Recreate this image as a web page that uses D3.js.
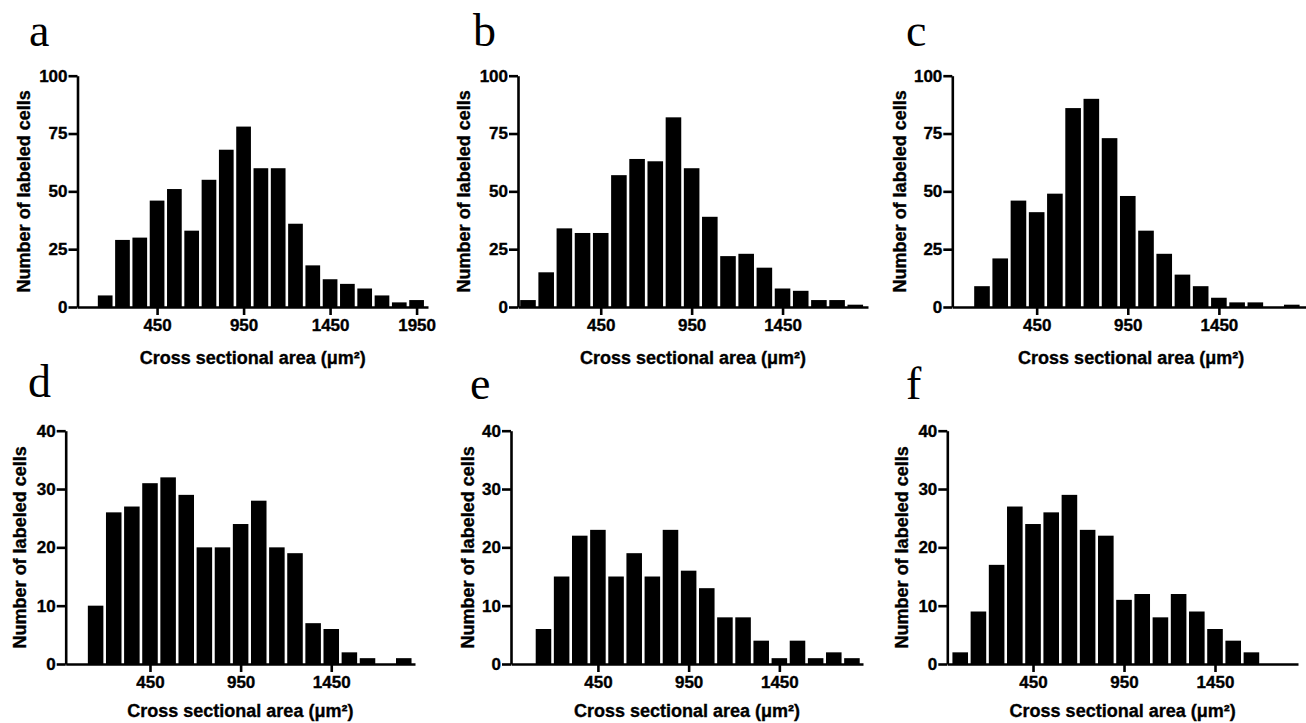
<!DOCTYPE html>
<html>
<head>
<meta charset="utf-8">
<script src="https://cdn.jsdelivr.net/npm/d3@7"></script>
<style>
  html, body { margin: 0; padding: 0; background: #fff; }
  svg { display: block; }
  .tick text, .axis-label { font-family: "Liberation Sans", Arial, sans-serif; font-weight: bold; fill: #000; stroke: #000; stroke-width: 0.35px; }
  .letter { font-family: "Liberation Serif", "Times New Roman", serif; fill: #000; }
</style>
</head>
<body>
<div id="chart"></div>
<script>
// bin centres (µm²) and counts for each histogram, bins are 100 wide
const binWidth = 100;

const centersA = [150, 250, 350, 450, 550, 650, 750, 850, 950, 1050, 1150, 1250, 1350, 1450, 1550, 1650, 1750, 1850, 1950];
const countsA = [5, 29, 30, 46, 51, 33, 55, 68, 78, 60, 60, 36, 18, 12, 10, 8, 5, 2, 3];

const centersB = [50, 150, 250, 350, 450, 550, 650, 750, 850, 950, 1050, 1150, 1250, 1350, 1450, 1550, 1650, 1750, 1850];
const countsB = [3, 15, 34, 32, 32, 57, 64, 63, 82, 60, 39, 22, 23, 17, 8, 7, 3, 3, 1];

const centersC = [150, 250, 350, 450, 550, 650, 750, 850, 950, 1050, 1150, 1250, 1350, 1450, 1550, 1650, 1750, 1850];
const countsC = [9, 21, 46, 41, 49, 86, 90, 73, 48, 33, 23, 14, 9, 4, 2, 2, 0, 1];

const centersD = [150, 250, 350, 450, 550, 650, 750, 850, 950, 1050, 1150, 1250, 1350, 1450, 1550, 1650, 1750, 1850];
const countsD = [10, 26, 27, 31, 32, 29, 20, 20, 24, 28, 20, 19, 7, 6, 2, 1, 0, 1];

const centersE = [150, 250, 350, 450, 550, 650, 750, 850, 950, 1050, 1150, 1250, 1350, 1450, 1550, 1650, 1750, 1850];
const countsE = [6, 15, 22, 23, 15, 19, 15, 23, 16, 13, 8, 8, 4, 1, 4, 1, 2, 1];

const centersF = [50, 150, 250, 350, 450, 550, 650, 750, 850, 950, 1050, 1150, 1250, 1350, 1450, 1550, 1650];
const countsF = [2, 9, 17, 27, 24, 26, 29, 23, 22, 11, 12, 8, 12, 9, 6, 4, 2];

const xTicksA = [450, 950, 1450, 1950];
const xTicks = [450, 950, 1450];
const yTicksTop = [0, 25, 50, 75, 100];
const yTicksBottom = [0, 10, 20, 30, 40];

const xTitle = 'Cross sectional area (\u03bcm\u00b2)';
const yTitle = 'Number of labeled cells';

const W = 1306, H = 723;

const svg = d3.select('#chart')
  .append('svg')
  .attr('width', W)
  .attr('height', H);

// layout for each panel (pixel positions only)
const panels = [
  { letter: 'a', centers: centersA, counts: countsA, ticks: xTicksA, yTicks: yTicksTop,
    left: 77.5, right: 428, xMin: -10, xMax: 2016, top: 75.7, bottom: 307,
    letterX: 29, letterY: 46, yLabX: 24, xLabY: 364 },
  { letter: 'b', centers: centersB, counts: countsB, ticks: xTicks, yTicks: yTicksTop,
    left: 518, right: 868, xMin: -5, xMax: 1920, top: 75.7, bottom: 307,
    letterX: 473, letterY: 46, yLabX: 464, xLabY: 364 },
  { letter: 'c', centers: centersC, counts: countsC, ticks: xTicks, yTicks: yTicksTop,
    left: 952.3, right: 1310, xMin: -13, xMax: 1950, top: 75.7, bottom: 307,
    letterX: 906, letterY: 46, yLabX: 900, xLabY: 364 },
  { letter: 'd', centers: centersD, counts: countsD, ticks: xTicks, yTicks: yTicksBottom,
    left: 65.7, right: 415, xMin: -15, xMax: 1912, top: 430.7, bottom: 664,
    letterX: 28, letterY: 397, yLabX: 20, xLabY: 717 },
  { letter: 'e', centers: centersE, counts: countsE, ticks: xTicks, yTicks: yTicksBottom,
    left: 511, right: 863, xMin: -29, xMax: 1911, top: 430.7, bottom: 664,
    letterX: 470, letterY: 399, yLabX: 468, xLabY: 717 },
  { letter: 'f', centers: centersF, counts: countsF, ticks: xTicks, yTicks: yTicksBottom,
    left: 947.3, right: 1298, xMin: -21, xMax: 1906, top: 430.7, bottom: 664,
    letterX: 906, letterY: 399, yLabX: 902, xLabY: 717 }
];

const drawPanel = (p) => {
  const g = svg.append('g');

  const x = d3.scaleLinear()
    .domain([p.xMin, p.xMax])
    .range([p.left, p.right]);

  const y = d3.scaleLinear()
    .domain([0, d3.max(p.yTicks)])
    .range([p.bottom, p.top]);

  const data = p.centers.map((c, i) => ({ center: c, count: p.counts[i] }));

  // Bars
  g.selectAll('.bar')
    .data(data.filter(d => d.count > 0))
    .enter().append('rect')
    .attr('class', 'bar')
    .attr('x', d => x(d.center - binWidth / 2) + 1.3)
    .attr('width', d => x(d.center + binWidth / 2) - x(d.center - binWidth / 2) - 2.6)
    .attr('y', d => y(d.count))
    .attr('height', d => y(0) - y(d.count))
    .attr('fill', '#000');

  // X axis
  const xAxis = g.append('g')
    .attr('transform', `translate(0,${p.bottom})`)
    .call(d3.axisBottom(x).tickValues(p.ticks).tickFormat(d3.format('d'))
      .tickSize(8).tickSizeOuter(0).tickPadding(4));

  xAxis.selectAll('text').style('font-size', '17px');
  xAxis.selectAll('line').style('stroke', '#000').style('stroke-width', '2.6px');
  xAxis.select('.domain').style('stroke', '#000').style('stroke-width', '2.6px');

  // Y axis
  const yAxis = g.append('g')
    .attr('transform', `translate(${p.left},0)`)
    .call(d3.axisLeft(y).tickValues(p.yTicks).tickFormat(d3.format('d'))
      .tickSize(9).tickSizeOuter(0).tickPadding(1));

  yAxis.selectAll('text').style('font-size', '17px');
  yAxis.selectAll('line').style('stroke', '#000').style('stroke-width', '2.6px');
  yAxis.select('.domain').style('stroke', '#000').style('stroke-width', '2.6px');

  // Axis titles
  g.append('text')
    .attr('class', 'axis-label')
    .attr('x', (p.left + p.right) / 2)
    .attr('y', p.xLabY)
    .style('text-anchor', 'middle')
    .style('font-size', '18px')
    .text(xTitle);

  g.append('text')
    .attr('class', 'axis-label')
    .attr('transform', `translate(${p.yLabX},${(p.top + p.bottom) / 2}) rotate(-90)`)
    .attr('dy', '0.35em')
    .style('text-anchor', 'middle')
    .style('font-size', '18px')
    .text(yTitle);

  // Panel letter
  g.append('text')
    .attr('class', 'letter')
    .attr('x', p.letterX)
    .attr('y', p.letterY)
    .style('font-size', '46px')
    .text(p.letter);
};

panels.forEach(drawPanel);
</script>
</body>
</html>
